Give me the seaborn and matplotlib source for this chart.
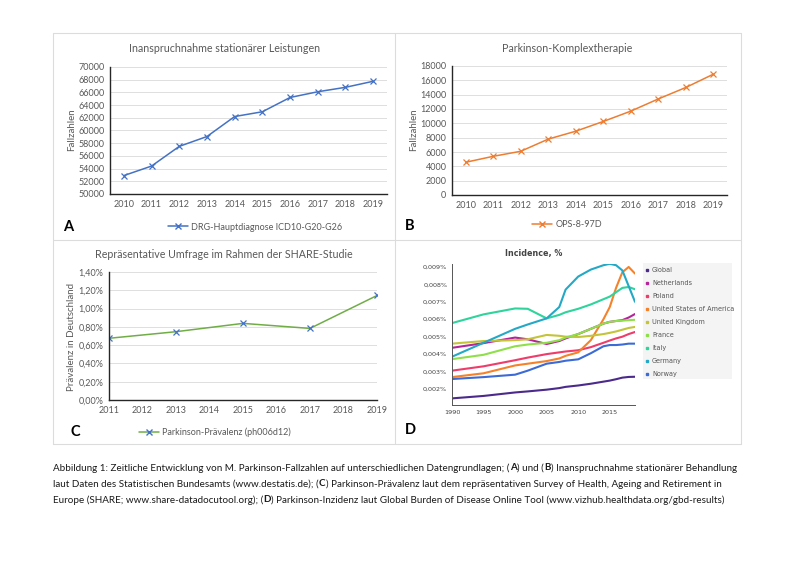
import matplotlib
matplotlib.use("Agg")
import matplotlib.pyplot as plt
import matplotlib.ticker as mticker
from matplotlib.lines import Line2D
from matplotlib.patches import Rectangle
import pandas as pd
import seaborn as sns

# --- data ---
years_ab = [2010, 2011, 2012, 2013, 2014, 2015, 2016, 2017, 2018, 2019]
drg_cases = [52900, 54400, 57500, 59050, 62200, 62950, 65200, 66100, 66800, 67750]
ops_cases = [4570, 5400, 6100, 7800, 8900, 10260, 11700, 13400, 15000, 16850]

years_c = [2011, 2013, 2015, 2017, 2019]
prevalence = [0.675, 0.747, 0.838, 0.783, 1.143]   # percent

years_d = [1990, 1995, 2000, 2002, 2005, 2007, 2008, 2010, 2012, 2014, 2015, 2016, 2017, 2018, 2019]
# incidence in 0.001 %
inc_global = [1.46, 1.60, 1.80, 1.86, 1.96, 2.05, 2.12, 2.20, 2.30, 2.42, 2.48, 2.56, 2.65, 2.69, 2.70]
inc_netherlands = [4.36, 4.63, 4.95, 4.85, 4.58, 4.75, 4.90, 5.15, 5.45, 5.75, 5.85, 5.90, 5.95, 6.10, 6.30]
inc_poland = [3.05, 3.30, 3.65, 3.80, 4.00, 4.10, 4.15, 4.22, 4.40, 4.65, 4.78, 4.90, 5.00, 5.15, 5.27]
inc_usa = [2.68, 2.90, 3.35, 3.45, 3.60, 3.75, 3.90, 4.10, 4.80, 6.00, 6.70, 7.80, 8.70, 9.00, 8.62]
inc_uk = [4.60, 4.75, 4.80, 4.85, 5.10, 5.05, 5.00, 4.98, 5.05, 5.15, 5.22, 5.30, 5.40, 5.50, 5.56]
inc_france = [3.71, 3.96, 4.45, 4.55, 4.65, 4.80, 4.95, 5.15, 5.45, 5.75, 5.85, 5.90, 5.92, 5.95, 5.97]
inc_italy = [5.78, 6.28, 6.62, 6.60, 6.05, 6.25, 6.40, 6.60, 6.85, 7.15, 7.30, 7.55, 7.80, 7.85, 7.72]
inc_germany = [3.85, 4.65, 5.45, 5.70, 6.05, 6.70, 7.70, 8.45, 8.85, 9.10, 9.18, 9.10, 8.80, 7.90, 7.00]
inc_norway = [2.57, 2.68, 2.82, 3.05, 3.45, 3.55, 3.62, 3.70, 4.05, 4.45, 4.52, 4.52, 4.55, 4.60, 4.60]

countries = ["Global", "Netherlands", "Poland", "United States of America", "United Kingdom",
             "France", "Italy", "Germany", "Norway"]
country_series = [inc_global, inc_netherlands, inc_poland, inc_usa, inc_uk,
                  inc_france, inc_italy, inc_germany, inc_norway]
country_colors = ["#4b2a8c", "#b5259a", "#ee3d6a", "#f5822a", "#c4c43a",
                  "#8fdf4a", "#2ed49c", "#23a9c6", "#3c6bd6"]

sns.set_style("white")
plt.rcParams["font.family"] = ["Lato", "DejaVu Sans"]

W, H = 800, 566
fig = plt.figure(figsize=(8, 5.66), dpi=100)


def rect(l, t, r, b):
    return [l / W, 1 - b / H, (r - l) / W, (b - t) / H]


def fx(x):
    return x / W


def fy(y):
    return 1 - y / H


grey_txt = "#595959"
grid_col = "#d9d9d9"

# table frame
for (x0, y0, x1, y1) in [(53, 33, 741, 33), (53, 240, 741, 240), (53, 444, 741, 444),
                         (53, 33, 53, 444), (395, 33, 395, 444), (741, 33, 741, 444)]:
    fig.add_artist(Line2D([fx(x0), fx(x1)], [fy(y0), fy(y1)], color="#dcdcdc", lw=0.8))


def excel_axes(ax):
    ax.grid(axis="y", color=grid_col, lw=0.6)
    ax.set_axisbelow(True)
    for s in ["top", "right"]:
        ax.spines[s].set_visible(False)
    for s in ["left", "bottom"]:
        ax.spines[s].set_color("#262626")
        ax.spines[s].set_linewidth(1.0)
    ax.tick_params(length=0, labelsize=6.5, labelcolor=grey_txt, pad=4)
    ax.set_xlabel("")
    ax.set_ylabel("")


# --- A ---
axA = fig.add_axes(rect(110, 67, 387, 194))
dfA = pd.DataFrame({"Jahr": years_ab, "Fälle": drg_cases})
sns.lineplot(data=dfA, x="Jahr", y="Fälle", ax=axA, color="#4472C4", lw=1.1,
             marker="x", markersize=4.5, markeredgewidth=0.9, markeredgecolor="#4472C4")
axA.set_xlim(2009.5, 2019.5)
axA.set_ylim(50000, 70000)
axA.set_xticks(years_ab)
axA.set_yticks(range(50000, 70001, 2000))
excel_axes(axA)
fig.text(fx(225), fy(49), "Inanspruchnahme stationärer Leistungen", ha="center", va="center",
         fontsize=7.7, color=grey_txt)
fig.text(fx(72), fy(130), "Fallzahlen", rotation=90, ha="center", va="center",
         fontsize=7, color=grey_txt)
axA.legend(handles=[Line2D([], [], color="#4472C4", lw=1.1, marker="x", markersize=4.5)],
           labels=["DRG-Hauptdiagnose ICD10-G20-G26"], loc="center",
           bbox_to_anchor=(fx(255), fy(227)), bbox_transform=fig.transFigure,
           frameon=False, fontsize=6.5, labelcolor=grey_txt, handlelength=2.2, handletextpad=0.4)

# --- B ---
axB = fig.add_axes(rect(452, 66, 727, 195))
dfB = pd.DataFrame({"Jahr": years_ab, "Fälle": ops_cases})
sns.lineplot(data=dfB, x="Jahr", y="Fälle", ax=axB, color="#ED7D31", lw=1.1,
             marker="x", markersize=4.5, markeredgewidth=0.9, markeredgecolor="#ED7D31")
axB.set_xlim(2009.5, 2019.5)
axB.set_ylim(0, 18000)
axB.set_xticks(years_ab)
axB.set_yticks(range(0, 18001, 2000))
excel_axes(axB)
fig.text(fx(567), fy(49), "Parkinson-Komplextherapie", ha="center", va="center",
         fontsize=7.7, color=grey_txt)
fig.text(fx(414), fy(130), "Fallzahlen", rotation=90, ha="center", va="center",
         fontsize=7, color=grey_txt)
axB.legend(handles=[Line2D([], [], color="#ED7D31", lw=1.1, marker="x", markersize=4.5)],
           labels=["OPS-8-97D"], loc="center",
           bbox_to_anchor=(fx(567), fy(225)), bbox_transform=fig.transFigure,
           frameon=False, fontsize=6.5, labelcolor=grey_txt, handlelength=2.2, handletextpad=0.4)

# --- C ---
axC = fig.add_axes(rect(109, 272, 377, 400))
dfC = pd.DataFrame({"Jahr": years_c, "Prävalenz": prevalence})
sns.lineplot(data=dfC, x="Jahr", y="Prävalenz", ax=axC, color="#70AD47", lw=1.1,
             marker="x", markersize=4.5, markeredgewidth=0.9, markeredgecolor="#4472C4")
axC.set_xlim(2011, 2019)
axC.set_ylim(0, 1.4)
axC.set_xticks(range(2011, 2020))
axC.set_yticks([0, 0.2, 0.4, 0.6, 0.8, 1.0, 1.2, 1.4])
axC.yaxis.set_major_formatter(mticker.FuncFormatter(lambda v, p: f"{v:.2f}%".replace(".", ",")))
excel_axes(axC)
fig.text(fx(224), fy(254), "Repräsentative Umfrage im Rahmen der SHARE-Studie", ha="center",
         va="center", fontsize=7.7, color=grey_txt)
fig.text(fx(72), fy(337), "Prävalenz in Deutschland", rotation=90, ha="center", va="center",
         fontsize=7, color=grey_txt)
axC.legend(handles=[Line2D([], [], color="#70AD47", lw=1.1, marker="x", markersize=4.5,
                           markeredgecolor="#4472C4")],
           labels=["Parkinson-Prävalenz (ph006d12)"], loc="center",
           bbox_to_anchor=(fx(215), fy(432)), bbox_transform=fig.transFigure,
           frameon=False, fontsize=6.5, labelcolor=grey_txt, handlelength=2.2, handletextpad=0.4)

# --- D ---
axD = fig.add_axes(rect(452, 264, 635, 405))
rows = []
for name, vals in zip(countries, country_series):
    for yr, v in zip(years_d, vals):
        rows.append({"Jahr": yr, "Land": name, "Inzidenz": v / 1000})
dfD = pd.DataFrame(rows)
sns.lineplot(data=dfD, x="Jahr", y="Inzidenz", hue="Land", hue_order=countries,
             palette=country_colors, ax=axD, lw=1.5, legend=False)
axD.set_xlim(1990, 2019)
axD.set_ylim(0.00108, 0.00917)
axD.set_xticks([1990, 1995, 2000, 2005, 2010, 2015])
axD.set_yticks([0.002, 0.003, 0.004, 0.005, 0.006, 0.007, 0.008, 0.009])
axD.yaxis.set_major_formatter(mticker.FuncFormatter(lambda v, p: f"{v:.3f}%".replace(".", ",")))
for s in ["top", "right"]:
    axD.spines[s].set_visible(False)
for s in ["left", "bottom"]:
    axD.spines[s].set_color("#555555")
    axD.spines[s].set_linewidth(0.7)
axD.tick_params(length=2, width=0.6, color="#555555", labelsize=4.6, labelcolor="#444444", pad=1.5)
for lab in axD.get_xticklabels() + axD.get_yticklabels():
    lab.set_family("DejaVu Sans")
axD.set_xlabel("")
axD.set_ylabel("")
fig.text(fx(534), fy(253), "Incidence, %", ha="center", va="center", fontsize=5.8,
         fontweight="bold", color="#444444", family="DejaVu Sans")
fig.add_artist(Rectangle((fx(643), fy(379)), (732 - 643) / W, (379 - 263) / H,
                         transform=fig.transFigure, facecolor="#f4f4f4", edgecolor="none"))
for i, (name, col) in enumerate(zip(countries, country_colors)):
    yy = 270 + 13 * i
    fig.add_artist(Line2D([fx(647)], [fy(yy)], marker="s", markersize=2, color=col, lw=0))
    fig.text(fx(652), fy(yy), name, ha="left", va="center", fontsize=4.7,
             color="#555555", family="DejaVu Sans")

# panel letters
for letter, x, y in [("A", 68, 227), ("B", 410, 226), ("C", 75, 432), ("D", 410, 430)]:
    fig.text(fx(x), fy(y), letter, ha="center", va="center", fontsize=10.5,
             fontweight="bold", color="black")

# caption with bold letters
caption = [
    [("Abbildung 1: Zeitliche Entwicklung von M. Parkinson-Fallzahlen auf unterschiedlichen Datengrundlagen; (", False),
     ("A", True), (") und (", False), ("B", True), (") Inanspruchnahme stationärer Behandlung", False)],
    [("laut Daten des Statistischen Bundesamts (www.destatis.de); (", False), ("C", True),
     (") Parkinson-Prävalenz laut dem repräsentativen Survey of Health, Ageing and Retirement in", False)],
    [("Europe (SHARE; www.share-datadocutool.org); (", False), ("D", True),
     (") Parkinson-Inzidenz laut Global Burden of Disease Online Tool (www.vizhub.healthdata.org/gbd-results)", False)],
]
renderer = fig.canvas.get_renderer()
for i, runs in enumerate(caption):
    x = 53
    for s, bold in runs:
        t = fig.text(fx(x), fy(468 + 16 * i), s, ha="left", va="center", fontsize=7.1,
                     fontweight="bold" if bold else "normal", color="#1a1a1a")
        x += t.get_window_extent(renderer).width + 0.3

fig.savefig("out.png", dpi=100, facecolor="white")
